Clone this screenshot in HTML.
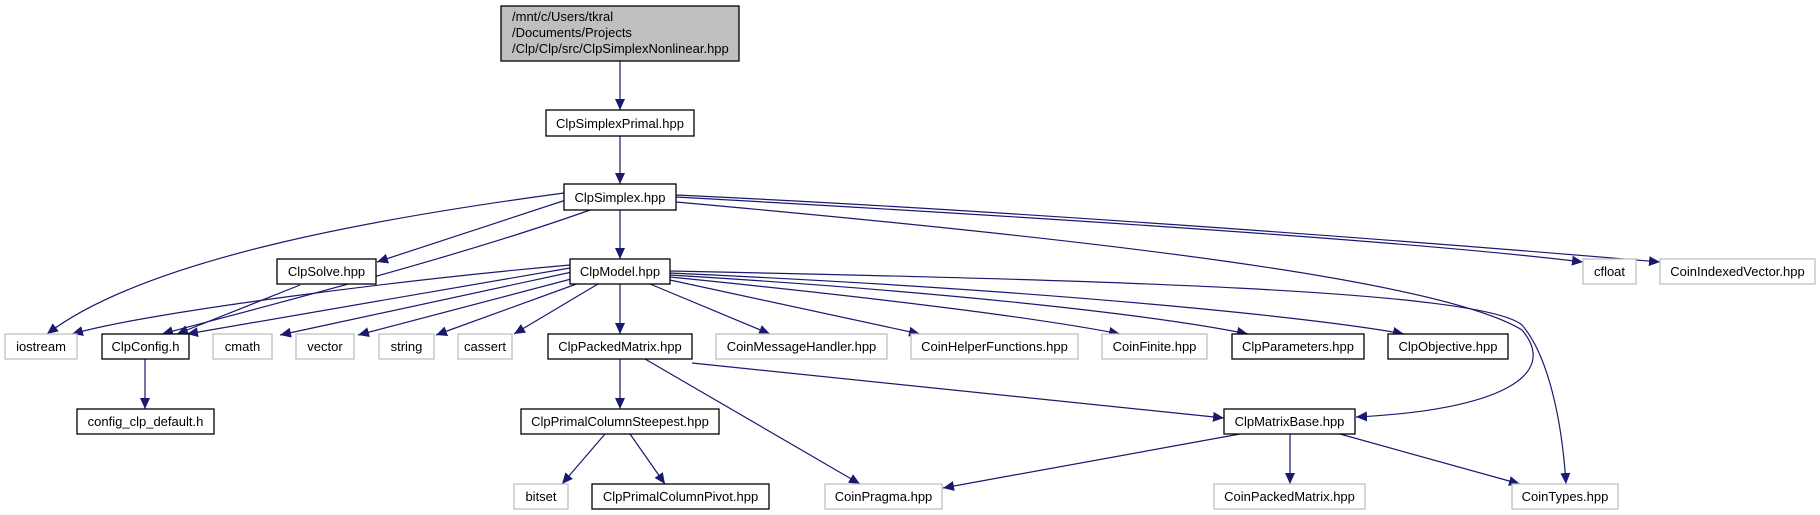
<!DOCTYPE html>
<html><head><meta charset="utf-8"><style>
html,body{margin:0;padding:0;background:#fff;}
svg{display:block;}
text{font-family:"Liberation Sans",Arial,sans-serif;font-size:13px;fill:#000;}
</style></head><body>
<svg width="1820" height="515" viewBox="0 0 1820 515" xmlns="http://www.w3.org/2000/svg">
<defs>
<marker id="a" markerUnits="userSpaceOnUse" markerWidth="12" markerHeight="10" refX="11" refY="5" orient="auto">
<path d="M0,0 L11,5 L0,10 Z" fill="#191970"/>
</marker>
</defs>
<g fill="none" stroke="#191970" stroke-width="1.2" marker-end="url(#a)">
<path d="M620,61 L620,110"/>
<path d="M620,136 L620,184"/>
<path d="M620,210 L620,259"/>
<path d="M564,193 C400,215 150,255 47,334"/>
<path d="M566,200 L377,262"/>
<path d="M590,210 C450,260 250,310 162,334"/>
<path d="M676,197 C1000,215 1400,240 1583,262"/>
<path d="M676,195 C1000,210 1400,240 1660,262"/>
<path d="M676,202 C1100,240 1440,280 1522,330 C1560,375 1500,410 1356,417"/>
<path d="M300,285 L177,334"/>
<path d="M570,265 C400,280 150,312 72,334"/>
<path d="M570,268 L187,334"/>
<path d="M572,272 L280,335"/>
<path d="M575,278 L358,335"/>
<path d="M582,282 L436,335"/>
<path d="M598,284 L514,334"/>
<path d="M620,284 L620,334"/>
<path d="M650,284 L770,334"/>
<path d="M670,280 L920,334"/>
<path d="M670,277 C900,300 1050,320 1120,334"/>
<path d="M670,275 C1000,295 1180,320 1248,334"/>
<path d="M670,273 C1050,290 1320,318 1404,334"/>
<path d="M670,271 C1100,280 1480,290 1522,325 C1548,355 1562,420 1566,484"/>
<path d="M145,359 L145,409"/>
<path d="M620,359 L620,409"/>
<path d="M645,359 L860,484"/>
<path d="M692,363 L1224,418"/>
<path d="M605,434 L562,484"/>
<path d="M630,434 L665,484"/>
<path d="M1240,434 L943,488"/>
<path d="M1290,434 L1290,484"/>
<path d="M1340,434 L1520,484"/>
</g>
<g stroke-width="1.3">
<rect x="501" y="6" width="238" height="55" fill="#bfbfbf" stroke="#000"/>
<text x="512" y="21">/mnt/c/Users/tkral</text>
<text x="512" y="37">/Documents/Projects</text>
<text x="512" y="53">/Clp/Clp/src/ClpSimplexNonlinear.hpp</text>
</g>
<g stroke-width="1.3" fill="#fff" stroke="#000">
<rect x="546" y="110" width="148" height="26"/>
<rect x="564" y="184" width="112" height="26"/>
<rect x="277" y="259" width="99" height="25"/>
<rect x="570" y="259" width="100" height="25"/>
<rect x="102" y="334" width="87" height="25"/>
<rect x="548" y="334" width="144" height="25"/>
<rect x="1232" y="334" width="132" height="25"/>
<rect x="1388" y="334" width="120" height="25"/>
<rect x="77" y="409" width="137" height="25"/>
<rect x="521" y="409" width="198" height="25"/>
<rect x="1224" y="409" width="131" height="25"/>
<rect x="592" y="484" width="177" height="25"/>
</g>
<g stroke-width="1.3" fill="#fff" stroke="#bfbfbf">
<rect x="1583" y="259" width="53" height="25"/>
<rect x="1660" y="259" width="155" height="25"/>
<rect x="5" y="334" width="72" height="25"/>
<rect x="213" y="334" width="59" height="25"/>
<rect x="296" y="334" width="58" height="25"/>
<rect x="379" y="334" width="55" height="25"/>
<rect x="458" y="334" width="54" height="25"/>
<rect x="716" y="334" width="171" height="25"/>
<rect x="911" y="334" width="167" height="25"/>
<rect x="1102" y="334" width="105" height="25"/>
<rect x="514" y="484" width="54" height="25"/>
<rect x="825" y="484" width="117" height="25"/>
<rect x="1214" y="484" width="151" height="25"/>
<rect x="1512" y="484" width="106" height="25"/>
</g>
<g text-anchor="middle">
<text x="620" y="128">ClpSimplexPrimal.hpp</text>
<text x="620" y="202">ClpSimplex.hpp</text>
<text x="326.5" y="276">ClpSolve.hpp</text>
<text x="620" y="276">ClpModel.hpp</text>
<text x="1609.5" y="276">cfloat</text>
<text x="1737.5" y="276">CoinIndexedVector.hpp</text>
<text x="41" y="351">iostream</text>
<text x="145.5" y="351">ClpConfig.h</text>
<text x="242.5" y="351">cmath</text>
<text x="325" y="351">vector</text>
<text x="406.5" y="351">string</text>
<text x="485" y="351">cassert</text>
<text x="620" y="351">ClpPackedMatrix.hpp</text>
<text x="801.5" y="351">CoinMessageHandler.hpp</text>
<text x="994.5" y="351">CoinHelperFunctions.hpp</text>
<text x="1154.5" y="351">CoinFinite.hpp</text>
<text x="1298" y="351">ClpParameters.hpp</text>
<text x="1448" y="351">ClpObjective.hpp</text>
<text x="145.5" y="426">config_clp_default.h</text>
<text x="620" y="426">ClpPrimalColumnSteepest.hpp</text>
<text x="1289.5" y="426">ClpMatrixBase.hpp</text>
<text x="541" y="501">bitset</text>
<text x="680.5" y="501">ClpPrimalColumnPivot.hpp</text>
<text x="883.5" y="501">CoinPragma.hpp</text>
<text x="1289.5" y="501">CoinPackedMatrix.hpp</text>
<text x="1565" y="501">CoinTypes.hpp</text>
</g>
</svg>
</body></html>
